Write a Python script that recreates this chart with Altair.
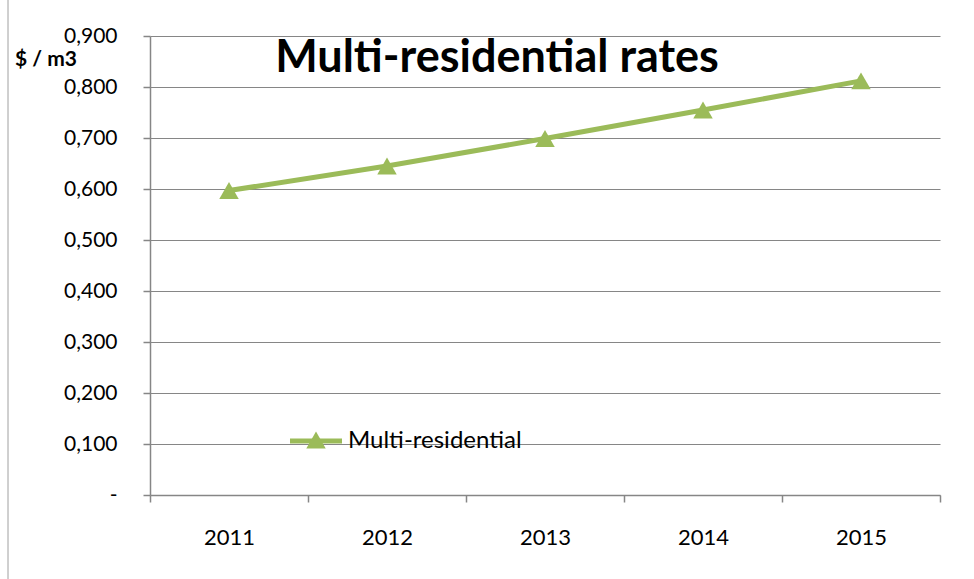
import altair as alt
import pandas as pd

years = ["2011", "2012", "2013", "2014", "2015"]
rates = [0.597, 0.645, 0.699, 0.755, 0.812]
series_name = "Multi-residential"
title_text = "Multi-residential rates"
y_unit = "$ / m3"
y_ticks = [0.0, 0.1, 0.2, 0.3, 0.4, 0.5, 0.6, 0.7, 0.8, 0.9]

df = pd.DataFrame({"year": years, "rate": rates})

GREEN = "#9BBB59"
GRAY = "#868686"
FONT = "Lato"
LFS = 21

x_enc = alt.X(
    "year:N",
    sort=years,
    bandPosition=0.5,
    scale=alt.Scale(type="band", paddingInner=0, paddingOuter=0),
    axis=alt.Axis(
        title=None, labelAngle=0, tickBand="extent", grid=False,
        labelPadding=25, tickSize=7, labelFontSize=22,
    ),
)
y_enc = alt.Y(
    "rate:Q",
    scale=alt.Scale(domain=[0, 0.9], nice=False, zero=True),
    axis=alt.Axis(
        title=None, values=y_ticks, grid=True, tickSize=7, labelPadding=26,
        labelFontSize=LFS,
        labelExpr="datum.value == 0 ? '-\u00a0\u00a0\u00a0' : replace(format(datum.value, '.3f'), '.', ',')",
    ),
)

base = alt.Chart(df)
line = base.mark_line(color=GREEN, strokeWidth=5).encode(x=x_enc, y=y_enc)
pts = base.mark_point(shape="triangle-up", filled=True, color=GREEN, size=380, opacity=1).encode(x=x_enc, y=y_enc)

one = pd.DataFrame({"label": [series_name], "title": [title_text], "unit": [y_unit]})

title = alt.Chart(one).mark_text(
    font=FONT, fontSize=45, fontWeight="bold", align="center", baseline="alphabetic", color="black"
).encode(text="title:N", x=alt.value(347), y=alt.value(36))

unit = alt.Chart(one).mark_text(
    font=FONT, fontSize=21, fontWeight="bold", align="left", baseline="alphabetic", color="black"
).encode(text="unit:N", x=alt.value(-135), y=alt.value(30))

leg_line = alt.Chart(one).mark_rule(color=GREEN, strokeWidth=5).encode(
    x=alt.value(140), x2=alt.value(192), y=alt.value(405)
)
leg_pt = alt.Chart(one).mark_point(shape="triangle-up", filled=True, color=GREEN, size=380, opacity=1).encode(
    x=alt.value(166), y=alt.value(404)
)
leg_text = alt.Chart(one).mark_text(
    font=FONT, fontSize=24, align="left", baseline="alphabetic", color="black"
).encode(text="label:N", x=alt.value(198), y=alt.value(412))

frame = alt.Chart(one).mark_rule(color="#A0A0A0", strokeWidth=1).encode(
    x=alt.value(-142), y=alt.value(-36), y2=alt.value(543)
)

chart = alt.layer(frame, line, pts, title, unit, leg_line, leg_pt, leg_text).properties(
    width=790, height=459,
    autosize=alt.AutoSizeParams(type="none"),
    padding={"left": 150, "top": 36, "right": 34, "bottom": 84},
    background="white",
).configure_view(stroke=None).configure_axis(
    domainColor=GRAY, tickColor=GRAY, gridColor=GRAY, labelColor="black",
    labelFont=FONT, domainWidth=1.5, tickWidth=1.5, gridWidth=1.2,
)

chart.save("out.html", embed_options={"renderer": "svg", "actions": False})
